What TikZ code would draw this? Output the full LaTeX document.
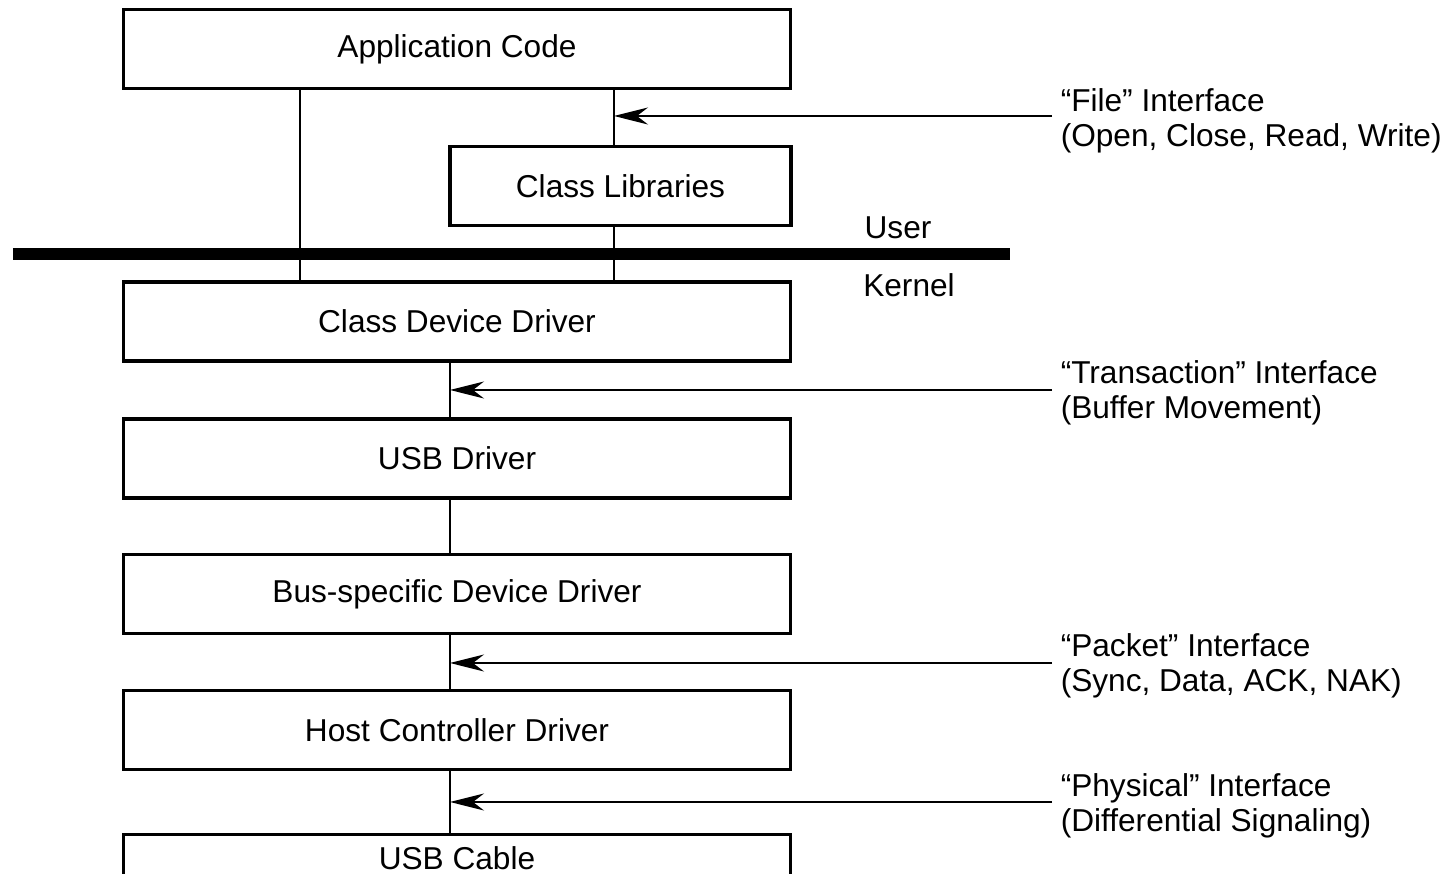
\documentclass[tikz,border=0pt]{standalone}
\usepackage{fontspec}
\setmainfont{Liberation Sans}
\usetikzlibrary{arrows.meta}
\tikzset{
  layer/.style={draw, line width=0.35mm, minimum width=66.7mm, minimum height=7.9mm, inner sep=0pt},
  iface/.style={-{Stealth[length=3.4mm,width=1.7mm]}, line width=0.15mm},
  ifacelabel/.style={anchor=west, align=left, inner xsep=0.8mm, inner ysep=0pt},
}

\begin{document}
\begin{tikzpicture}[x=0.1mm, y=-0.1mm, font=\fontsize{9}{10}\selectfont, line width=0.15mm]
    \clip (0,0) rectangle (1455,874);
    \useasboundingbox (0,0) rectangle (1455,874);
    % stack of layers
    \node[layer] (app) at (457,49) {Application Code};
    \node[layer, minimum width=34.1mm] (lib) at (620.5,186) {Class Libraries};
    \node[layer] (cdd) at (457,321.5) {Class Device Driver};
    \node[layer] (usb) at (457,458.5) {USB Driver};
    \node[layer] (bus) at (457,594) {Bus-specific Device Driver};
    \node[layer] (hcd) at (457,730) {Host Controller Driver};
    \node[layer, minimum height=4.6mm, anchor=north] (cable) at (457,833) {USB Cable};
    % user / kernel split
    \draw[line width=1.2mm] (13,254) -- (1010,254);
    \node (user) at (898,228) {User};
    \node (kernel) at (909,285) {Kernel};
    \coordinate (u1) at (300,254);
    \coordinate (u2) at (614,254);
    \coordinate (k) at (450,500);
    \draw (app.south -| u1) -- (cdd.north -| u1);
    \draw (app.south -| u2) -- (lib.north -| u2);
    \draw (lib.south -| u2) -- (cdd.north -| u2);
    \foreach \a/\b in {cdd/usb,usb/bus,bus/hcd,hcd/cable}{
        \draw (\a.south -| k) -- (\b.north -| k);
    }
    % interfaces
    \node[ifacelabel] (fileif) at (1052,121) {``File'' Interface\\(Open, Close, Read, Write)};
    \node[ifacelabel] (transif) at (1052,393) {``Transaction'' Interface\\(Buffer Movement)};
    \node[ifacelabel] (packif) at (1052,666) {``Packet'' Interface\\(Sync, Data, ACK, NAK)};
    \node[ifacelabel] (physif) at (1052,806) {``Physical'' Interface\\(Differential Signaling)};
    \draw[iface] (fileif.west |- 0,116) -- (u2 |- 0,116);
    \foreach \n/\y in {transif/390,packif/663,physif/802}{
        \draw[iface] (\n.west |- 0,\y) -- (k |- 0,\y);
    }
\end{tikzpicture}
\end{document}
